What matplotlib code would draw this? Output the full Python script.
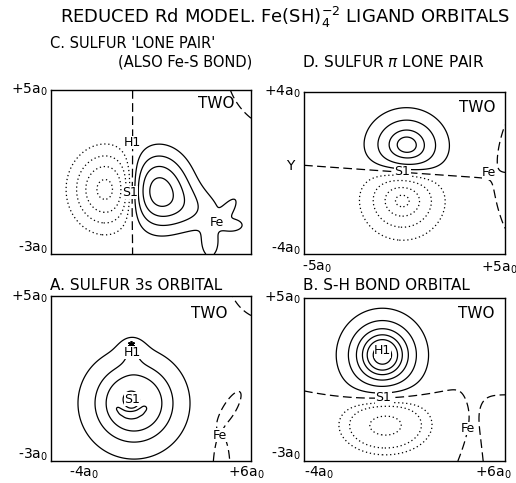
import numpy as np
import matplotlib
matplotlib.use("Agg")
import matplotlib.pyplot as plt

plt.rcParams['font.family'] = ['DejaVu Sans']
plt.rcParams['lines.dotted_pattern'] = [1.0, 2.2]
plt.rcParams['lines.dashed_pattern'] = [7.0, 3.5]

W, H = 516, 483

# lobes of each orbital map: centre x, centre y, width x, width y, tilt (deg), amplitude
c_lobes = [(-1.2, 0.15, 1.05, 1.15, 0, -1.0),
           (1.3, 0.15, 1.0, 1.15, 0, 1.0),
           (2.9, -0.75, 1.3, 0.75, -15, 0.28),
           (4.85, -0.85, 0.5, 0.18, 55, 0.25),
           (5.05, -1.6, 0.42, 0.22, 0, 0.25),
           (3.95, -2.5, 0.3, 0.5, 0, 0.3),
           (6.4, 5.0, 0.5, 0.5, 0, -1e-5)]
d_lobes = [(0.1, 1.25, 1.15, 1.05, 0, 1.0),
           (-0.1, -1.25, 1.15, 1.1, 0, -1.0),
           (5.6, 0.6, 0.8, 0.8, 0, -1e-3),
           (5.6, -0.6, 0.8, 0.8, 0, 1e-3)]
a_lobes = [(0.15, -0.2, 1.5, 1.45, 0, 1.0),
           (0.05, 2.35, 0.45, 0.5, 0, 0.2),
           (0.0, 0.0, 0.24, 0.24, 0, 1.05),
           (-0.7, -0.45, 0.14, 0.14, 0, 0.33),
           (-0.5, -0.65, 0.14, 0.14, 0, 0.4),
           (-0.25, -0.78, 0.14, 0.14, 0, 0.42),
           (0.0, -0.82, 0.14, 0.14, 0, 0.42),
           (0.25, -0.78, 0.14, 0.14, 0, 0.42),
           (0.5, -0.65, 0.14, 0.14, 0, 0.4),
           (0.7, -0.45, 0.14, 0.14, 0, 0.33),
           (4.55, -0.85, 0.7, 0.25, 58, -0.02),
           (4.45, -2.7, 0.2, 0.7, 0, -0.02),
           (6.2, 5.2, 0.5, 0.5, 0, -1e-4)]
b_lobes = [(-0.1, 2.2, 1.2, 1.2, 0, 1.0),
           (0.05, -1.2, 1.4, 0.9, 0, -0.6),
           (4.5, -1.8, 0.6, 1.4, 0, 0.0124),
           (6.4, -1.5, 0.9, 1.3, 0, -0.05),
           (6.4, 1.6, 0.9, 1.0, 0, 0.05)]

c_pos = [0.15, 0.35, 0.6, 0.88]
c_neg = [-0.88, -0.6, -0.35, -0.15]
d_pos = [0.17, 0.43, 0.7, 0.86]
d_neg = [-0.91, -0.72, -0.43, -0.17]
a_pos = [0.175, 0.43, 0.65, 1.2]
a_neg = []
b_pos = [0.16, 0.37, 0.56, 0.71, 0.82, 0.93]
b_neg = [-0.5, -0.26, -0.15]

# atoms: label, x, y
c_atoms = [("H1", 0.05, 2.45), ("S1", -0.05, 0.0), ("Fe", 4.3, -1.45)]
d_atoms = [("S1", -0.1, 0.05), ("Fe", 4.2, 0.0)]
a_atoms = [("H1", 0.05, 2.25), ("S1", 0.05, 0.0), ("Fe", 4.45, -1.75)]
b_atoms = [("H1", -0.1, 2.4), ("S1", -0.05, 0.1), ("Fe", 4.15, -1.4)]
a_nucleus = (0.0, 2.65)

# panel box in pixels (left, top, right, bottom), data range, "TWO" position in pixels
panels = [
    ((51, 90, 251, 254), (-4, 6), (-3, 5), c_lobes, c_pos, c_neg, c_atoms, (216, 103)),
    ((304, 92, 505, 254), (-5, 5), (-4, 4), d_lobes, d_pos, d_neg, d_atoms, (477, 108)),
    ((51, 296, 251, 461), (-4, 6), (-3, 5), a_lobes, a_pos, a_neg, a_atoms, (209, 313)),
    ((304, 298, 505, 461), (-4, 6), (-3, 5), b_lobes, b_pos, b_neg, b_atoms, (476, 313)),
]


def lobe(X, Y, cx, cy, sx, sy, tilt, amp):
    t = np.radians(tilt)
    u = (X - cx) * np.cos(t) + (Y - cy) * np.sin(t)
    v = -(X - cx) * np.sin(t) + (Y - cy) * np.cos(t)
    return amp * np.exp(-0.5 * ((u / sx) ** 2 + (v / sy) ** 2))


fig = plt.figure(figsize=(W / 100, H / 100), dpi=100)


def fx(x):
    return x / W


def fy(y):
    return 1 - y / H


axes = []
for box, xr, yr, lobes, pos, neg, atoms, two in panels:
    l, t, r, b = box
    ax = fig.add_axes([fx(l), fy(b), (r - l) / W, (b - t) / H])
    xs = np.linspace(xr[0], xr[1], 500)
    ys = np.linspace(yr[0], yr[1], 500)
    X, Y = np.meshgrid(xs, ys)
    Z = np.zeros_like(X)
    for lb in lobes:
        Z += lobe(X, Y, *lb)
    ax.contour(X, Y, Z, levels=pos, colors='k', linewidths=0.9, linestyles='solid')
    if neg:
        ax.contour(X, Y, Z, levels=neg, colors='k', linewidths=0.9, linestyles='dotted')
    ax.contour(X, Y, Z, levels=[0], colors='k', linewidths=0.9, linestyles='dashed')
    for lab, x, y in atoms:
        ax.text(x, y, lab, fontsize=9, ha='center', va='center',
                bbox=dict(facecolor='white', edgecolor='none', pad=0.2))
    fig.text(fx(two[0]), fy(two[1]), "TWO", fontsize=11, ha='center', va='center')
    ax.set_xlim(xr)
    ax.set_ylim(yr)
    ax.set_xticks([])
    ax.set_yticks([])
    for s in ax.spines.values():
        s.set_linewidth(1.0)
    axes.append(ax)

axes[2].plot([a_nucleus[0]], [a_nucleus[1]], marker=(6, 2, 0), color='k',
             markersize=5, markeredgewidth=1.2)

fig.text(fx(285), fy(17), r"REDUCED Rd MODEL. Fe(SH)$_4^{-2}$ LIGAND ORBITALS",
         fontsize=13, ha='center', va='center')
fig.text(fx(50), fy(44), "C. SULFUR 'LONE PAIR'", fontsize=10.5, ha='left', va='center')
fig.text(fx(118), fy(62), "(ALSO Fe-S BOND)", fontsize=10.5, ha='left', va='center')
fig.text(fx(302), fy(62), r"D. SULFUR $\pi$ LONE PAIR", fontsize=11, ha='left', va='center')
fig.text(fx(50), fy(285), "A. SULFUR 3s ORBITAL", fontsize=11, ha='left', va='center')
fig.text(fx(303), fy(285), "B. S-H BOND ORBITAL", fontsize=11, ha='left', va='center')

# axis end labels: text, x, y, alignment
end_labels = [(r"+5a$_0$", 48, 90, 'right'), (r"-3a$_0$", 48, 248, 'right'),
              (r"+4a$_0$", 301, 92, 'right'), (r"-4a$_0$", 301, 249, 'right'),
              (r"-5a$_0$", 317, 267, 'center'), (r"+5a$_0$", 499, 268, 'center'),
              (r"+5a$_0$", 48, 297, 'right'), (r"-3a$_0$", 48, 455, 'right'),
              (r"-4a$_0$", 84, 473, 'center'), (r"+6a$_0$", 246, 473, 'center'),
              (r"+5a$_0$", 301, 298, 'right'), (r"-3a$_0$", 301, 454, 'right'),
              (r"-4a$_0$", 319, 473, 'center'), (r"+6a$_0$", 493, 473, 'center')]
for txt, x, y, ha in end_labels:
    fig.text(fx(x), fy(y), txt, fontsize=10, ha=ha, va='center')
fig.text(fx(290), fy(166), "Y", fontsize=10, ha='center', va='center')

fig.savefig("out.png", dpi=100)
